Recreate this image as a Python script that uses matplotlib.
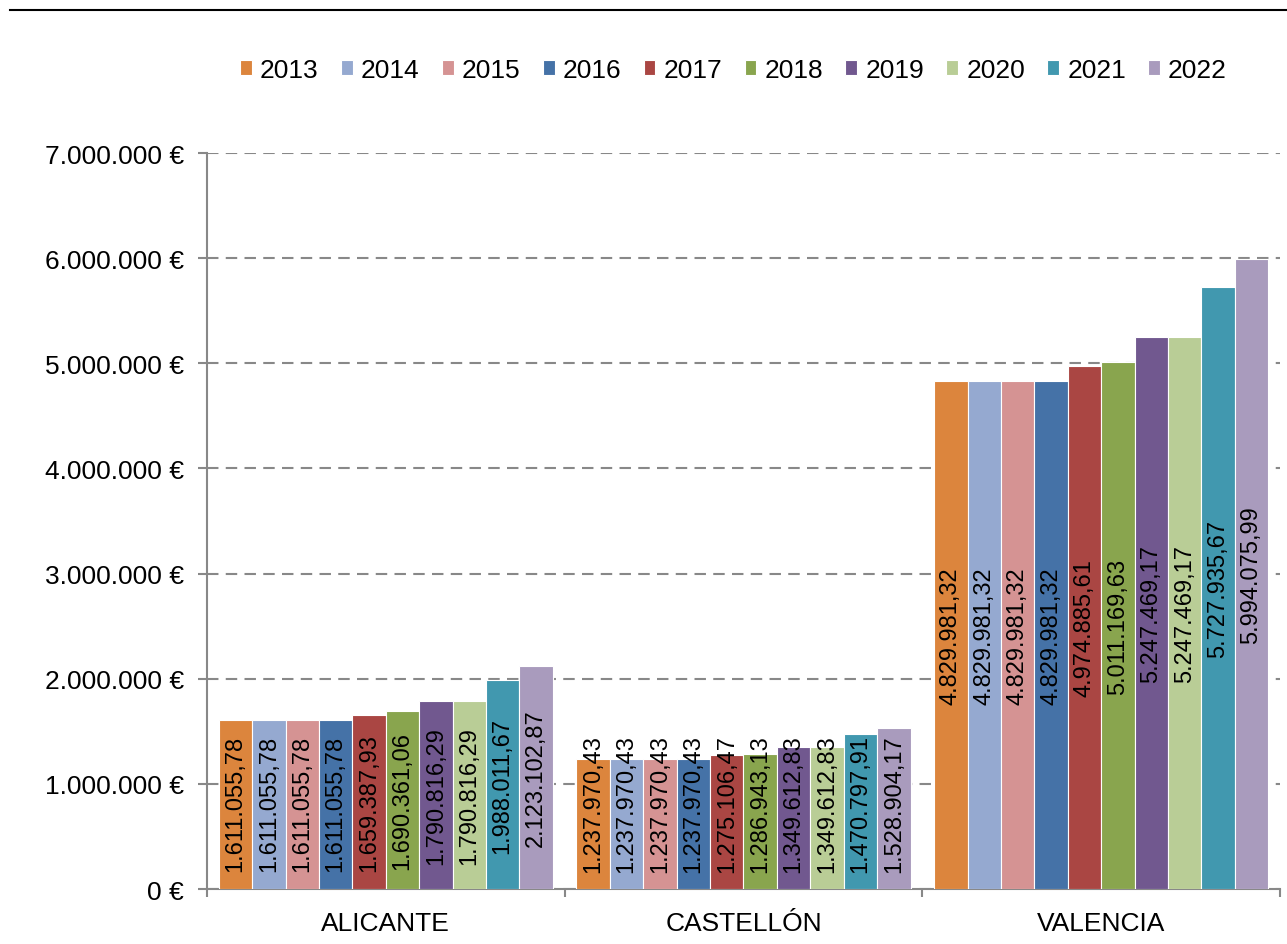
import numpy as np
import matplotlib.pyplot as plt
from matplotlib.lines import Line2D
from matplotlib.ticker import FuncFormatter

plt.rcParams['font.family'] = ['Liberation Sans', 'DejaVu Sans']

provincias = ['ALICANTE', 'CASTELLÓN', 'VALENCIA']
years = ['2013', '2014', '2015', '2016', '2017', '2018', '2019', '2020', '2021', '2022']

alicante = [1611055.78, 1611055.78, 1611055.78, 1611055.78, 1659387.93,
            1690361.06, 1790816.29, 1790816.29, 1988011.67, 2123102.87]
castellon = [1237970.43, 1237970.43, 1237970.43, 1237970.43, 1275106.47,
             1286943.13, 1349612.83, 1349612.83, 1470797.91, 1528904.17]
valencia = [4829981.32, 4829981.32, 4829981.32, 4829981.32, 4974885.61,
            5011169.63, 5247469.17, 5247469.17, 5727935.67, 5994075.99]

colores = ['#DC853D', '#95A9D0', '#D59393', '#4572A7', '#AA4643',
           '#89A54E', '#71588F', '#B9CD96', '#4198AF', '#A99BBD']


def fmt_es(v, dec=0):
    s = f"{v:,.{dec}f}"
    return s.replace(',', 'X').replace('.', ',').replace('X', '.')


data = np.array([alicante, castellon, valencia])  # provincia x year

fig = plt.figure(figsize=(12.87, 9.45), dpi=100)
ax = fig.add_axes([0.1608, 0.0582, 0.8338, 0.7788])

x = np.arange(len(provincias))
w = 0.0934
label_min = 820000  # labels are pushed up so they don't run below the axis

for i, yr in enumerate(years):
    pos = x - 5 * w + (i + 0.5) * w
    vals = data[:, i]
    ax.bar(pos, vals, width=w, color=colores[i], edgecolor='white',
           linewidth=0.8, label=yr, zorder=3)
    for p, v in zip(pos, vals):
        ax.text(p, max(v / 2, label_min), fmt_es(v, 2), rotation=90,
                ha='center', va='center', fontsize=17, color='black',
                zorder=4)

ax.set_xlim(-0.5, 2.5)
ax.set_ylim(0, 7000000)
ax.set_yticks(np.arange(0, 7000001, 1000000))
ax.yaxis.set_major_formatter(FuncFormatter(lambda v, _: fmt_es(v) + ' €'))
ax.set_xticks(x)
ax.set_xticklabels(provincias)
ax.set_xticks([-0.5, 0.5, 1.5, 2.5], minor=True)

ax.grid(axis='y', color='#888888', linestyle=(0, (5.5, 3.5)), linewidth=1.5,
        zorder=0)
for s in ['top', 'right']:
    ax.spines[s].set_visible(False)
for s in ['left', 'bottom']:
    ax.spines[s].set_color('#888888')
    ax.spines[s].set_linewidth(1.5)

ax.tick_params(axis='y', direction='out', length=6.5, width=1.5,
               color='#888888', labelsize=19, pad=10)
ax.tick_params(axis='x', which='major', length=0, labelsize=19, pad=16)
ax.tick_params(axis='x', which='minor', direction='out', length=6,
               width=1.5, color='#888888')

fig.legend(loc='center', bbox_to_anchor=(0.570, 0.925), ncol=10,
           frameon=False, fontsize=19, handlelength=0.45, handleheight=0.55,
           handletextpad=0.3, columnspacing=0.85)

fig.add_artist(Line2D([0.008, 1.0], [0.988, 0.988], color='black',
                      linewidth=1.5, transform=fig.transFigure))

fig.savefig('out.png', dpi=100)
